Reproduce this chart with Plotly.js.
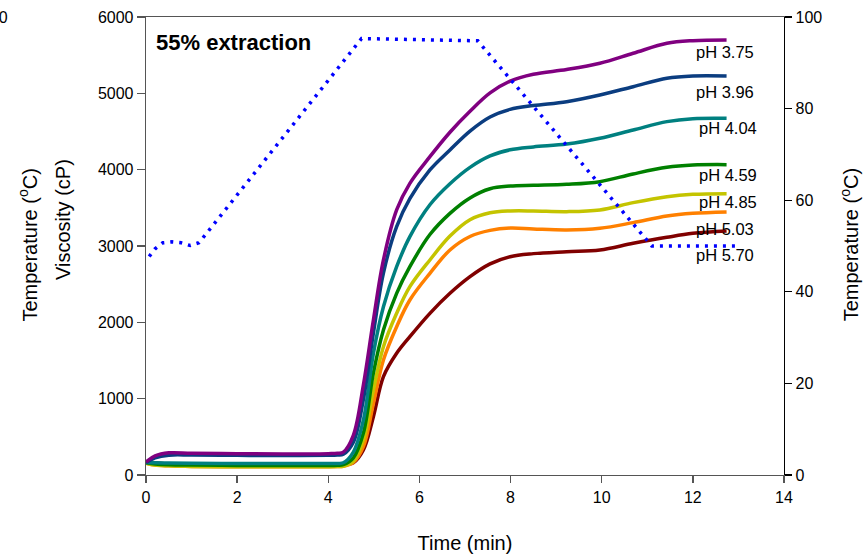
<!DOCTYPE html>
<html>
<head>
<meta charset="utf-8">
<script src="https://cdn.plot.ly/plotly-3.0.1.min.js"></script>
<style>html,body{margin:0;padding:0;background:#fff;}#chart{width:864px;height:556px;}</style>
</head>
<body>
<div id="chart"></div>
<script>
// Time (min) sampling of the viscosity curves
const time = [0, 0.2, 0.5, 1, 2, 3, 4, 4.2, 4.33, 4.55, 4.77, 4.99, 5.21, 5.5, 5.79, 6.23, 6.67, 7.11, 7.55, 7.99, 8.5, 9.23, 9.96, 10.69, 11.43, 12.0, 12.74];
// Viscosity (cP) for each pH
const ph375 = [170, 250, 290, 285, 280, 275, 280, 285, 300, 520, 1180, 2030, 2817, 3472, 3821, 4170, 4490, 4765, 5005, 5160, 5250, 5312, 5394, 5525, 5656, 5690, 5699];
const ph396 = [165, 225, 260, 262, 258, 255, 258, 262, 272, 430, 990, 1860, 2646, 3253, 3620, 3996, 4258, 4505, 4690, 4790, 4840, 4891, 4978, 5087, 5197, 5227, 5227];
const ph404 = [165, 160, 158, 155, 150, 150, 150, 152, 160, 300, 720, 1594, 2205, 2729, 3122, 3540, 3815, 4030, 4180, 4260, 4298, 4335, 4411, 4520, 4629, 4668, 4673];
const ph459 = [160, 145, 135, 130, 125, 125, 125, 128, 135, 225, 550, 1336, 1900, 2380, 2729, 3150, 3428, 3630, 3750, 3785, 3795, 3808, 3843, 3944, 4031, 4061, 4066];
const ph485 = [155, 130, 120, 112, 108, 108, 108, 110, 115, 180, 458, 1114, 1681, 2118, 2467, 2817, 3130, 3345, 3435, 3459, 3459, 3450, 3472, 3568, 3646, 3677, 3686];
const ph503 = [155, 130, 120, 112, 108, 108, 108, 110, 115, 165, 371, 939, 1507, 1943, 2293, 2642, 2948, 3125, 3205, 3235, 3223, 3210, 3232, 3306, 3393, 3428, 3446];
const ph570 = [170, 160, 145, 135, 130, 128, 128, 130, 135, 160, 328, 764, 1288, 1594, 1812, 2118, 2380, 2598, 2765, 2860, 2900, 2926, 2948, 3035, 3114, 3166, 3197];
// Temperature profile
const tempTime = [0.07, 0.2, 0.37, 0.57, 0.77, 0.97, 1.16, 1.3, 4.73, 7.28, 11.1, 12.93];
const tempVal = [47.7, 49.4, 50.7, 50.9, 50.7, 50.1, 50.7, 52.4, 95.3, 94.8, 50, 50];
// Labels
const phLabels = ["pH 3.75", "pH 3.96", "pH 4.04", "pH 4.59", "pH 4.85", "pH 5.03", "pH 5.70"];
const xTicks = [0, 2, 4, 6, 8, 10, 12, 14];

const series = [ph375, ph396, ph404, ph459, ph485, ph503, ph570];
const colors = ["#800080", "#0B3D80", "#008080", "#008000", "#C4C400", "#FF8000", "#800000"];
const labelX = [12.03, 12.03, 12.1, 12.1, 12.1, 12.03, 12.03];
const labelY = [5542, 5022, 4546, 3930, 3581, 3223, 2882];

const FONT = "Arial, 'Liberation Sans', sans-serif";
const traces = [];
const drawOrder = [6, 5, 4, 3, 2, 1, 0];
drawOrder.forEach(i => {
  traces.push({
    x: time, y: series[i], type: 'scatter', mode: 'lines', name: phLabels[i],
    line: {color: colors[i], width: 3.5, shape: 'spline', smoothing: 1.0},
    hoverinfo: 'x+y', showlegend: false
  });
});
traces.push({
  x: tempTime, y: tempVal, type: 'scatter', mode: 'lines', yaxis: 'y2', name: 'Temperature',
  line: {color: '#0000FF', width: 3.5, dash: '3px,6px'}, showlegend: false
});

const annotations = phLabels.map((t, i) => ({
  x: labelX[i], y: labelY[i], xref: 'x', yref: 'y', text: t, showarrow: false,
  xanchor: 'left', yanchor: 'middle', font: {family: FONT, size: 16.5, color: '#000'}
}));
annotations.push({
  xref: 'paper', yref: 'paper', x: 0.013, y: 0.945, xanchor: 'left', yanchor: 'middle',
  text: '<b>55% extraction</b>', showarrow: false, font: {family: FONT, size: 22, color: '#000'}
});
annotations.push({
  xref: 'paper', yref: 'paper', x: -0.130, y: 0.557, xanchor: 'center', yanchor: 'middle',
  text: 'Viscosity (cP)', textangle: -90, showarrow: false, font: {family: FONT, size: 20, color: '#000'}
});
annotations.push({
  xref: 'paper', yref: 'paper', x: -0.185, y: 0.503, xanchor: 'center', yanchor: 'middle',
  text: 'Temperature (<sup>o</sup>C)', textangle: -90, showarrow: false, font: {family: FONT, size: 20, color: '#000'}
});
annotations.push({
  xref: 'paper', yref: 'paper', x: 1.103, y: 0.503, xanchor: 'center', yanchor: 'middle',
  text: 'Temperature (<sup>o</sup>C)', textangle: -90, showarrow: false, font: {family: FONT, size: 20, color: '#000'}
});
annotations.push({
  xref: 'paper', yref: 'paper', x: -0.2132, y: 1.0, xanchor: 'right', yanchor: 'middle',
  text: '100', showarrow: false, font: {family: FONT, size: 16, color: '#000'}
});

const layout = {
  width: 864, height: 556,
  margin: {l: 146, r: 80, t: 17, b: 81},
  paper_bgcolor: '#fff', plot_bgcolor: '#fff',
  font: {family: FONT, size: 16, color: '#000'},
  xaxis: {
    range: [0, 14], tickvals: xTicks, ticktext: xTicks.map(String),
    showgrid: false, zeroline: false, showline: true, linecolor: '#555', linewidth: 1.3,
    mirror: true, ticks: 'outside', ticklen: 7, tickcolor: '#555', tickwidth: 1.3,
    tickfont: {family: FONT, size: 16, color: '#000'},
    title: {text: 'Time (min)', font: {family: FONT, size: 20, color: '#000'}, standoff: 31}
  },
  yaxis: {
    range: [0, 6000], dtick: 1000, showgrid: false, zeroline: false,
    showline: true, linecolor: '#555', linewidth: 1.3,
    ticks: 'outside', ticklen: 8, tickcolor: '#555', tickwidth: 1.3,
    tickfont: {family: FONT, size: 16, color: '#000'}
  },
  yaxis2: {
    range: [0, 100], dtick: 20, overlaying: 'y', side: 'right', showgrid: false, zeroline: false,
    showline: true, linecolor: '#000', linewidth: 1.3,
    ticks: 'outside', ticklen: 7, tickcolor: '#000', tickwidth: 1.3,
    tickfont: {family: FONT, size: 16, color: '#000'}
  },
  annotations: annotations,
  showlegend: false
};

Plotly.newPlot('chart', traces, layout, {displayModeBar: false, staticPlot: true});
</script>
</body>
</html>
